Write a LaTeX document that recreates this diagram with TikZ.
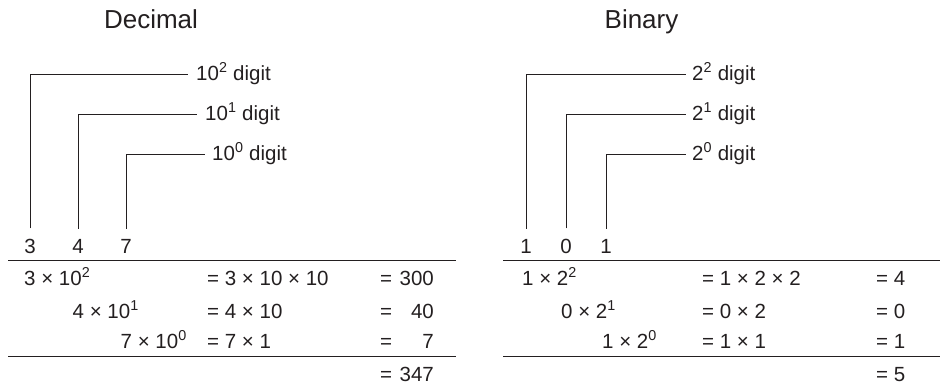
\documentclass[tikz,border=0pt]{standalone}
\usepackage{fontspec}
\setmainfont{Liberation Sans}
\definecolor{ink}{HTML}{231F20}
\begin{document}
\begin{tikzpicture}[x=1pt,y=-1pt,
  txt/.style={font=\fontsize{20.5}{24}\selectfont, inner sep=0pt, anchor=base west, text=ink},
  ttl/.style={font=\fontsize{26}{30}\selectfont, inner sep=0pt, anchor=base, text=ink},
  dig/.style={txt, anchor=base},
  ln/.style={line width=0.9pt, draw=ink}]
\useasboundingbox (0,0) rectangle (941,384);

% ---------------- Decimal ----------------
\node[ttl] (tdec) at (151,28.5) {Decimal};
\node[txt] (ld2) at (196,80) {10\textsuperscript{2} digit};
\node[txt] (ld1) at (205,120) {10\textsuperscript{1} digit};
\node[txt] (ld0) at (212,160) {10\textsuperscript{0} digit};
\node[dig] (dd2) at (30,253) {3};
\node[dig] (dd1) at (78,253) {4};
\node[dig] (dd0) at (126,253) {7};
\draw[ln] ([yshift=10pt]dd2.north) |- ([shift={(-8pt,6pt)}]ld2.base west);
\draw[ln] ([yshift=10pt]dd1.north) |- ([shift={(-8pt,6pt)}]ld1.base west);
\draw[ln] ([yshift=10pt]dd0.north) |- ([shift={(-7pt,6pt)}]ld0.base west);
\draw[ln] (8,260.7) -- (456,260.7);
\draw[ln] (8,356.5) -- (456,356.5);
\node[txt] (dr1a) at (24,285) {3 × 10\textsuperscript{2}};
\node[txt] (dr2a) at (72.5,318) {4 × 10\textsuperscript{1}};
\node[txt] (dr3a) at (120.5,348) {7 × 10\textsuperscript{0}};
\node[txt] (dr1b) at (207,285) {= 3 × 10 × 10};
\node[txt] (dr2b) at (207,318) {= 4 × 10};
\node[txt] (dr3b) at (207,348) {= 7 × 1};
\node[txt] (dr1e) at (380,285) {=};
\node[txt] (dr2e) at (380,318) {=};
\node[txt] (dr3e) at (380,348) {=};
\node[txt] (dr4e) at (380,381) {=};
\node[txt,anchor=base east] (dr1c) at (434,285) {300};
\node[txt,anchor=base east] (dr2c) at (434,318) {40};
\node[txt,anchor=base east] (dr3c) at (434,348) {7};
\node[txt,anchor=base east] (dr4c) at (434,381) {347};

% ---------------- Binary ----------------
\node[ttl] (tbin) at (641.5,28.5) {Binary};
\node[txt] (lb2) at (692,80) {2\textsuperscript{2} digit};
\node[txt] (lb1) at (692,120) {2\textsuperscript{1} digit};
\node[txt] (lb0) at (692,160) {2\textsuperscript{0} digit};
\node[dig] (bd2) at (526,253) {1};
\node[dig] (bd1) at (566,253) {0};
\node[dig] (bd0) at (606,253) {1};
\draw[ln] ([yshift=10pt]bd2.north) |- ([shift={(-6pt,6pt)}]lb2.base west);
\draw[ln] ([yshift=10pt]bd1.north) |- ([shift={(-6pt,6pt)}]lb1.base west);
\draw[ln] ([yshift=10pt]bd0.north) |- ([shift={(-6pt,6pt)}]lb0.base west);
\draw[ln] (503,260.7) -- (940,260.7);
\draw[ln] (503,356.5) -- (940,356.5);
\node[txt] (br1a) at (522,285) {1 × 2\textsuperscript{2}};
\node[txt] (br2a) at (561,318) {0 × 2\textsuperscript{1}};
\node[txt] (br3a) at (602,348) {1 × 2\textsuperscript{0}};
\node[txt] (br1b) at (702,285) {= 1 × 2 × 2};
\node[txt] (br2b) at (702,318) {= 0 × 2};
\node[txt] (br3b) at (702,348) {= 1 × 1};
\node[txt] (br1c) at (876,285) {= 4};
\node[txt] (br2c) at (876,318) {= 0};
\node[txt] (br3c) at (876,348) {= 1};
\node[txt] (br4c) at (876,381) {= 5};
\end{tikzpicture}
\end{document}
